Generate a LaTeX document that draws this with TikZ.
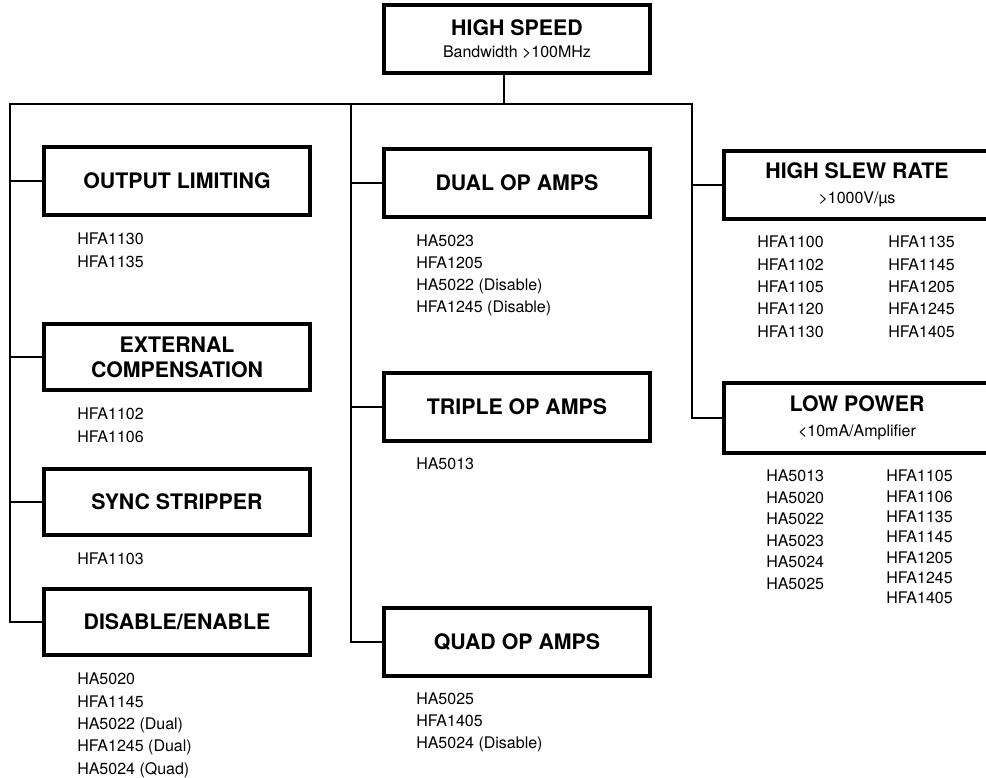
\documentclass[tikz,border=0pt]{standalone}
\usepackage{fontspec}
\setmainfont{TeX Gyre Heros}
\usetikzlibrary{positioning}

\newcommand{\boxsub}[1]{{\fontsize{12}{18.75}\selectfont\mdseries #1}}

\tikzset{
    groupbox/.style={draw, line width=3pt, minimum width=200pt, minimum height=51pt,
        inner sep=0pt, align=center, font=\fontsize{16}{18.75}\selectfont\bfseries},
    partlist/.style={anchor=north west, inner sep=0pt, align=left,
        font=\fontsize{12}{16.7}\selectfont},
    link/.style={line width=2pt}
}

\begin{document}
\begin{tikzpicture}[x=0.75pt, y=-0.75pt]
    % Frame
    \useasboundingbox (0,0) rectangle (986,778);
    \clip (0,0) rectangle (986,778);

    % Top box
    \node[groupbox, font=\fontsize{16}{16.5}\selectfont\bfseries] (speed) at (517,39)
        {HIGH SPEED\\\boxsub{Bandwidth >100MHz}};

    % Left column
    \node[groupbox] (output)  at (177,181) {OUTPUT LIMITING};
    \node[groupbox, minimum height=50pt] (extcomp) at (177,357) {EXTERNAL\\COMPENSATION};
    \node[groupbox, minimum height=50pt] (sync)    at (177,502) {SYNC STRIPPER};
    \node[groupbox, minimum height=50pt] (disable) at (177,622) {DISABLE/ENABLE};

    % Middle column
    \node[groupbox] (dual)   at (517,183) {DUAL OP AMPS};
    \node[groupbox] (triple) at (517,407) {TRIPLE OP AMPS};
    \node[groupbox] (quad)   at (517,642) {QUAD OP AMPS};

    % Right column
    \node[groupbox] (slew)   at (857,185) {HIGH SLEW RATE\\\boxsub{>1000V/µs}};
    \node[groupbox, minimum height=52pt] (lowpow) at (857,418) {LOW POWER\\\boxsub{<10mA/Amplifier}};

    % Part numbers
    \node[partlist] (outputparts)  at (77,233) {HFA1130\\HFA1135};
    \node[partlist] (extcompparts) at (77,408) {HFA1102\\HFA1106};
    \node[partlist] (syncparts)    at (77,553) {HFA1103};
    \node[partlist] (disableparts) at (77,673)
        {HA5020\\HFA1145\\HA5022 (Dual)\\HFA1245 (Dual)\\HA5024 (Quad)};

    \node[partlist, font=\fontsize{12}{16.3}\selectfont] (dualparts) at (416,235)
        {HA5023\\HFA1205\\HA5022 (Disable)\\HFA1245 (Disable)};
    \node[partlist] (tripleparts) at (416,458) {HA5013};
    \node[partlist, font=\fontsize{12}{16.5}\selectfont] (quadparts) at (416,693)
        {HA5025\\HFA1405\\HA5024 (Disable)};

    \node[partlist] (slewpartsa) at (757,236)
        {HFA1100\\HFA1102\\HFA1105\\HFA1120\\HFA1130};
    \node[partlist] (slewpartsb) at (888,236)
        {HFA1135\\HFA1145\\HFA1205\\HFA1245\\HFA1405};
    \node[partlist, font=\fontsize{12}{16.1}\selectfont] (lowpowpartsa) at (766,470)
        {HA5013\\HA5020\\HA5022\\HA5023\\HA5024\\HA5025};
    \node[partlist, font=\fontsize{12}{15.2}\selectfont] (lowpowpartsb) at (886,470)
        {HFA1105\\HFA1106\\HFA1135\\HFA1145\\HFA1205\\HFA1245\\HFA1405};

    % Bus lines
    \coordinate (trunk) at (504,104);
    \coordinate (leftbus) at (10,104);
    \coordinate (midbus) at (351,104);
    \coordinate (rightbus) at (692,104);

    \draw[link] (speed.south -| trunk) -- (trunk);
    \draw[link] (disable.west) -| (leftbus) -- (rightbus) |- (lowpow.west);
    \draw[link] (midbus) |- (quad.west);

    % Branches
    \foreach \n in {output, extcomp, sync}
    {
        \draw[link] (\n.west) -- (\n.west -| leftbus);
    }
    \foreach \n in {dual, triple}
    {
        \draw[link] (\n.west) -- (\n.west -| midbus);
    }
    \draw[link] (slew.west) -- (slew.west -| rightbus);
\end{tikzpicture}
\end{document}
